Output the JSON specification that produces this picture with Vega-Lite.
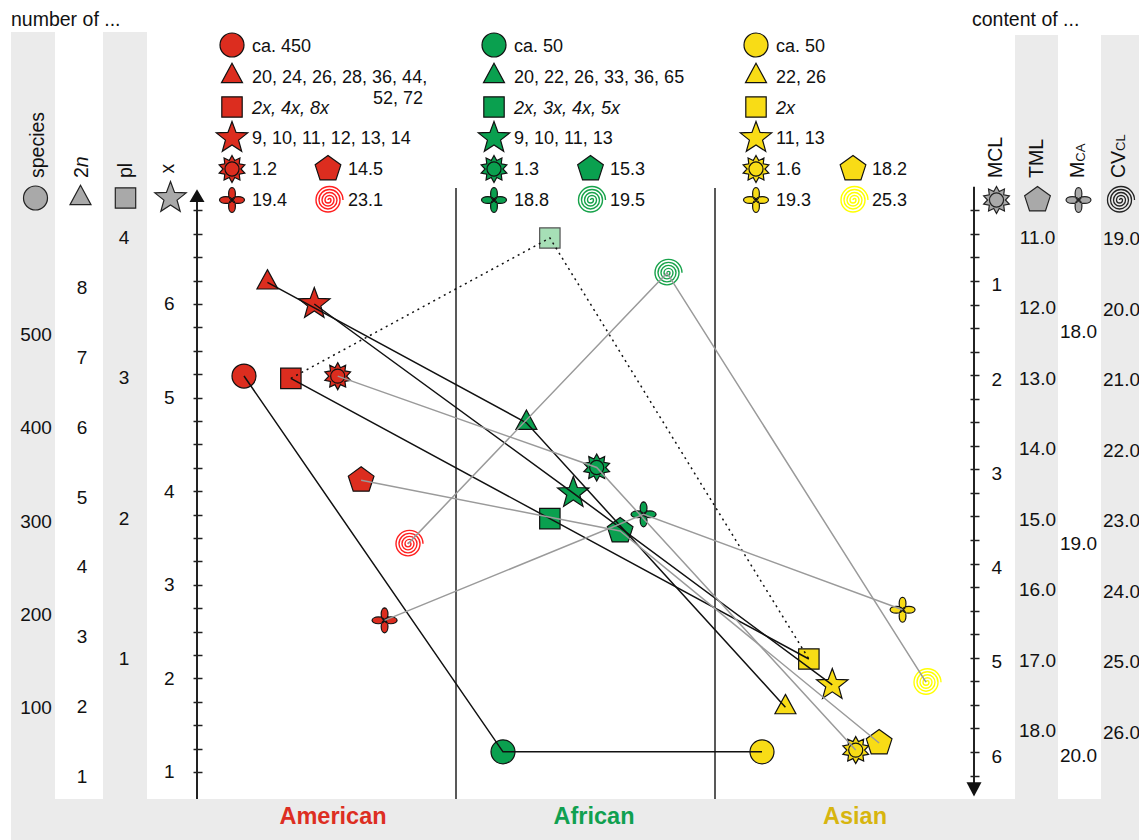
{
 "$schema": "https://vega.github.io/schema/vega-lite/v6.json",
 "width": 1139, "height": 840, "autosize": {"type": "none"}, "padding": 0,
 "background": "white",
 "config": {"view": {"stroke": null}, "text": {"font": "Liberation Sans"}, "axis": {"labelFont": "Liberation Sans"}},
 "resolve": {"scale": {"x": "independent", "y": "independent", "xOffset": "independent"}},
 "datasets": {
  "obs": [
   {"region": "American", "measure": "species", "value": 456},
   {"region": "African", "measure": "species", "value": 53},
   {"region": "Asian", "measure": "species", "value": 53},
   {"region": "American", "measure": "2n", "value": 8.08},
   {"region": "African", "measure": "2n", "value": 6.07},
   {"region": "Asian", "measure": "2n", "value": 2.0},
   {"region": "American", "measure": "pl", "value": 3},
   {"region": "African", "measure": "pl", "value": 2},
   {"region": "Asian", "measure": "pl", "value": 1},
   {"region": "American", "measure": "x", "value": 6},
   {"region": "African", "measure": "x", "value": 3.98},
   {"region": "Asian", "measure": "x", "value": 1.93},
   {"region": "American", "measure": "MCL", "value": 2.01},
   {"region": "African", "measure": "MCL", "value": 2.98},
   {"region": "Asian", "measure": "MCL", "value": 5.98},
   {"region": "American", "measure": "TML", "value": 14.44},
   {"region": "African", "measure": "TML", "value": 15.16},
   {"region": "Asian", "measure": "TML", "value": 18.17},
   {"region": "American", "measure": "MCA", "value": 19.36},
   {"region": "African", "measure": "MCA", "value": 18.86},
   {"region": "Asian", "measure": "MCA", "value": 19.31},
   {"region": "American", "measure": "CVCL", "value": 23.32},
   {"region": "African", "measure": "CVCL", "value": 19.48},
   {"region": "Asian", "measure": "CVCL", "value": 25.28}
  ],
  "alt": [
   {"region": "American", "measure": "pl", "value": 3},
   {"region": "African", "measure": "pl", "value": 4},
   {"region": "Asian", "measure": "pl", "value": 1}
  ],
  "ticks": [
   {"axis": "species", "v": 100}, {"axis": "species", "v": 200}, {"axis": "species", "v": 300}, {"axis": "species", "v": 400}, {"axis": "species", "v": 500},
   {"axis": "2n", "v": 1}, {"axis": "2n", "v": 2}, {"axis": "2n", "v": 3}, {"axis": "2n", "v": 4}, {"axis": "2n", "v": 5}, {"axis": "2n", "v": 6}, {"axis": "2n", "v": 7}, {"axis": "2n", "v": 8},
   {"axis": "pl", "v": 1}, {"axis": "pl", "v": 2}, {"axis": "pl", "v": 3}, {"axis": "pl", "v": 4},
   {"axis": "TML", "v": 11}, {"axis": "TML", "v": 12}, {"axis": "TML", "v": 13}, {"axis": "TML", "v": 14}, {"axis": "TML", "v": 15}, {"axis": "TML", "v": 16}, {"axis": "TML", "v": 17}, {"axis": "TML", "v": 18},
   {"axis": "MCA", "v": 18}, {"axis": "MCA", "v": 19}, {"axis": "MCA", "v": 20},
   {"axis": "CVCL", "v": 19}, {"axis": "CVCL", "v": 20}, {"axis": "CVCL", "v": 21}, {"axis": "CVCL", "v": 22}, {"axis": "CVCL", "v": 23}, {"axis": "CVCL", "v": 24}, {"axis": "CVCL", "v": 25}, {"axis": "CVCL", "v": 26}
  ],
  "leg": [
   {"region": "American", "measure": "species", "label": "ca. 450"},
   {"region": "American", "measure": "2n", "label": "20, 24, 26, 28, 36, 44,"},
   {"region": "American", "measure": "pl", "label": "2x, 4x, 8x"},
   {"region": "American", "measure": "x", "label": "9, 10, 11, 12, 13, 14"},
   {"region": "American", "measure": "MCL", "label": "1.2"},
   {"region": "American", "measure": "TML", "label": "14.5"},
   {"region": "American", "measure": "MCA", "label": "19.4"},
   {"region": "American", "measure": "CVCL", "label": "23.1"},
   {"region": "African", "measure": "species", "label": "ca. 50"},
   {"region": "African", "measure": "2n", "label": "20, 22, 26, 33, 36, 65"},
   {"region": "African", "measure": "pl", "label": "2x, 3x, 4x, 5x"},
   {"region": "African", "measure": "x", "label": "9, 10, 11, 13"},
   {"region": "African", "measure": "MCL", "label": "1.3"},
   {"region": "African", "measure": "TML", "label": "15.3"},
   {"region": "African", "measure": "MCA", "label": "18.8"},
   {"region": "African", "measure": "CVCL", "label": "19.5"},
   {"region": "Asian", "measure": "species", "label": "ca. 50"},
   {"region": "Asian", "measure": "2n", "label": "22, 26"},
   {"region": "Asian", "measure": "pl", "label": "2x"},
   {"region": "Asian", "measure": "x", "label": "11, 13"},
   {"region": "Asian", "measure": "MCL", "label": "1.6"},
   {"region": "Asian", "measure": "TML", "label": "18.2"},
   {"region": "Asian", "measure": "MCA", "label": "19.3"},
   {"region": "Asian", "measure": "CVCL", "label": "25.3"}
  ]
 },
 "layer": [
  {"data": {"values": [{"axis": "species"}, {"axis": "pl"}]},
   "mark": {"type": "rect", "fill": "#ebebeb"},
   "encoding": {
    "x": {"field": "axis", "type": "nominal", "scale": {"type": "band", "domain": ["species", "2n", "pl", "x"], "range": [11, 193], "paddingInner": 0.0435, "paddingOuter": 0}, "axis": null},
    "y": {"datum": 0.2735, "type": "quantitative", "scale": {"type": "linear", "domain": [0.2735, 9.24786], "nice": false, "zero": false}, "axis": null},
    "y2": {"datum": 8.906}}},
  {"data": {"values": [{"axis": "TML"}, {"axis": "CVCL"}]},
   "mark": {"type": "rect", "fill": "#ebebeb"},
   "encoding": {
    "x": {"field": "axis", "type": "nominal", "scale": {"type": "band", "domain": ["MCL", "TML", "MCA", "CVCL"], "range": [972, 1144], "paddingInner": 0, "paddingOuter": 0}, "axis": null},
    "y": {"datum": 0.2735, "type": "quantitative", "scale": {"type": "linear", "domain": [0.2735, 9.24786], "nice": false, "zero": false}, "axis": null},
    "y2": {"datum": 8.874}}},
  {"data": {"values": [{}]},
   "mark": {"type": "rect", "fill": "#ebebeb"},
   "encoding": {
    "x": {"datum": -0.71815, "type": "quantitative", "scale": {"type": "linear", "domain": [-0.76062, 3.63707], "nice": false, "zero": false}, "axis": null},
    "x2": {"datum": 3.63707},
    "y": {"datum": 0.2735, "type": "quantitative", "scale": {"type": "linear", "domain": [0.2735, 9.24786], "nice": false, "zero": false}, "axis": null},
    "y2": {"datum": 0.7115}}},
  {"data": {"values": [{"region": "African"}, {"region": "Asian"}]},
   "mark": {"type": "rule", "color": "#222", "strokeWidth": 1.5},
   "encoding": {
    "x": {"field": "region", "type": "nominal", "bandPosition": 0, "scale": {"type": "band", "domain": ["American", "African", "Asian"], "range": [197, 974], "paddingInner": 0, "paddingOuter": 0}, "axis": null},
    "y": {"datum": 0.7115, "type": "quantitative", "scale": {"type": "linear", "domain": [0.2735, 9.24786], "nice": false, "zero": false}, "axis": null},
    "y2": {"datum": 7.239}}},
  {"data": {"values": [{}]},
   "mark": {"type": "rule", "color": "#222", "strokeWidth": 2},
   "encoding": {
    "x": {"datum": 0, "type": "quantitative", "scale": {"type": "linear", "domain": [-0.76062, 3.63707], "nice": false, "zero": false}, "axis": null},
    "y": {"datum": 0.7115, "type": "quantitative", "scale": {"type": "linear", "domain": [0.2735, 9.24786], "nice": false, "zero": false},
     "axis": {"orient": "left", "offset": -202, "domain": false, "grid": false, "title": null,
      "values": [1, 1.25, 1.5, 1.75, 2, 2.25, 2.5, 2.75, 3, 3.25, 3.5, 3.75, 4, 4.25, 4.5, 4.75, 5, 5.25, 5.5, 5.75, 6, 6.25, 6.5, 6.75, 7],
      "tickSize": 9, "tickWidth": 1.5, "tickColor": "#222",
      "labelExpr": "datum.value % 1 === 0 && datum.value < 7 ? '' + datum.value : ''",
      "labelFontSize": 19, "labelColor": "#111", "labelPadding": 19, "labelOverlap": false, "labelBound": false, "labelFlush": false}},
    "y2": {"datum": 7.1}}},
  {"data": {"values": [{}]},
   "mark": {"type": "rule", "color": "#222", "strokeWidth": 2},
   "encoding": {
    "x": {"datum": 3, "type": "quantitative", "scale": {"type": "linear", "domain": [-0.76062, 3.63707], "nice": false, "zero": false}, "axis": null},
    "y": {"datum": 0, "type": "quantitative", "scale": {"type": "linear", "domain": [-1.98301, 6.93418], "reverse": true, "nice": false, "zero": false},
     "axis": {"orient": "right", "offset": -169, "domain": false, "grid": false, "title": null,
      "values": [0.25, 0.5, 0.75, 1, 1.25, 1.5, 1.75, 2, 2.25, 2.5, 2.75, 3, 3.25, 3.5, 3.75, 4, 4.25, 4.5, 4.75, 5, 5.25, 5.5, 5.75, 6, 6.25],
      "tickSize": 9, "tickWidth": 1.5, "tickColor": "#222",
      "labelExpr": "datum.value % 1 === 0 ? '' + datum.value : ''",
      "labelFontSize": 19, "labelColor": "#111", "labelPadding": 12, "labelOffset": 4, "labelOverlap": false, "labelBound": false, "labelFlush": false}},
    "y2": {"datum": 6.35}}},
  {"data": {"values": [{}]},
   "mark": {"type": "point", "shape": "M0,-0.45L0.5,0.4L-0.5,0.4Z", "size": 900, "filled": true, "fill": "#111", "opacity": 1, "strokeWidth": 0},
   "encoding": {
    "x": {"datum": 0, "type": "quantitative", "scale": {"type": "linear", "domain": [-0.76062, 3.63707], "nice": false, "zero": false}, "axis": null},
    "y": {"datum": 7.1538, "type": "quantitative", "scale": {"type": "linear", "domain": [0.2735, 9.24786], "nice": false, "zero": false}, "axis": null}}},
  {"data": {"values": [{}]},
   "mark": {"type": "point", "shape": "M0,0.5L0.5,-0.45L-0.5,-0.45Z", "size": 900, "filled": true, "fill": "#111", "opacity": 1, "strokeWidth": 0},
   "encoding": {
    "x": {"datum": 3, "type": "quantitative", "scale": {"type": "linear", "domain": [-0.76062, 3.63707], "nice": false, "zero": false}, "axis": null},
    "y": {"datum": 0.81838, "type": "quantitative", "scale": {"type": "linear", "domain": [0.2735, 9.24786], "nice": false, "zero": false}, "axis": null}}},
  {"data": {"name": "ticks"}, "transform": [{"filter": "datum.axis === 'species'"}],
   "mark": {"type": "text", "fontSize": 19, "color": "#111", "baseline": "middle", "align": "center"},
   "encoding": {
    "x": {"field": "axis", "type": "nominal", "scale": {"type": "band", "domain": ["species", "2n", "pl", "x"], "range": [14, 190], "paddingInner": 0, "paddingOuter": 0}, "axis": null},
    "y": {"field": "v", "type": "quantitative", "scale": {"type": "linear", "domain": [-41.55, 859.25], "nice": false, "zero": false}, "axis": null},
    "text": {"field": "v", "type": "quantitative"}}},
  {"data": {"name": "ticks"}, "transform": [{"filter": "datum.axis === '2n'"}],
   "mark": {"type": "text", "fontSize": 19, "color": "#111", "baseline": "middle", "align": "center", "dx": 2},
   "encoding": {
    "x": {"field": "axis", "type": "nominal", "scale": {"type": "band", "domain": ["species", "2n", "pl", "x"], "range": [14, 190], "paddingInner": 0, "paddingOuter": 0}, "axis": null},
    "y": {"field": "v", "type": "quantitative", "scale": {"type": "linear", "domain": [0.0982, 12.1223], "nice": false, "zero": false}, "axis": null},
    "text": {"field": "v", "type": "quantitative"}}},
  {"data": {"name": "ticks"}, "transform": [{"filter": "datum.axis === 'pl'"}],
   "mark": {"type": "text", "fontSize": 19, "color": "#111", "baseline": "middle", "align": "center"},
   "encoding": {
    "x": {"field": "axis", "type": "nominal", "scale": {"type": "band", "domain": ["species", "2n", "pl", "x"], "range": [14, 190], "paddingInner": 0, "paddingOuter": 0}, "axis": null},
    "y": {"field": "v", "type": "quantitative", "scale": {"type": "linear", "domain": [-0.2898, 5.6961], "nice": false, "zero": false}, "axis": null},
    "text": {"field": "v", "type": "quantitative"}}},
  {"data": {"name": "ticks"}, "transform": [{"filter": "datum.axis === 'TML'"}],
   "mark": {"type": "text", "fontSize": 19, "color": "#111", "baseline": "middle", "align": "center"},
   "encoding": {
    "x": {"field": "axis", "type": "nominal", "scale": {"type": "band", "domain": ["MCL", "TML", "MCA", "CVCL"], "range": [976, 1140], "paddingInner": 0, "paddingOuter": 0}, "axis": null},
    "y": {"field": "v", "type": "quantitative", "scale": {"type": "linear", "domain": [7.6207, 19.5475], "reverse": true, "nice": false, "zero": false}, "axis": null},
    "text": {"field": "v", "type": "quantitative", "format": ".1f"}}},
  {"data": {"name": "ticks"}, "transform": [{"filter": "datum.axis === 'MCA'"}],
   "mark": {"type": "text", "fontSize": 19, "color": "#111", "baseline": "middle", "align": "center"},
   "encoding": {
    "x": {"field": "axis", "type": "nominal", "scale": {"type": "band", "domain": ["MCL", "TML", "MCA", "CVCL"], "range": [976, 1140], "paddingInner": 0, "paddingOuter": 0}, "axis": null},
    "y": {"field": "v", "type": "quantitative", "scale": {"type": "linear", "domain": [16.434, 20.396], "reverse": true, "nice": false, "zero": false}, "axis": null},
    "text": {"field": "v", "type": "quantitative", "format": ".1f"}}},
  {"data": {"name": "ticks"}, "transform": [{"filter": "datum.axis === 'CVCL'"}],
   "mark": {"type": "text", "fontSize": 19, "color": "#111", "baseline": "middle", "align": "center", "dx": 2},
   "encoding": {
    "x": {"field": "axis", "type": "nominal", "scale": {"type": "band", "domain": ["MCL", "TML", "MCA", "CVCL"], "range": [976, 1140], "paddingInner": 0, "paddingOuter": 0}, "axis": null},
    "y": {"field": "v", "type": "quantitative", "scale": {"type": "linear", "domain": [15.6133, 27.5163], "reverse": true, "nice": false, "zero": false}, "axis": null},
    "text": {"field": "v", "type": "quantitative", "format": ".1f"}}},
  {"data": {"values": [{"axis": "species", "t": "species"}, {"axis": "2n", "t": "2"}, {"axis": "pl", "t": "pl"}]},
   "mark": {"type": "text", "fontSize": 19.5, "color": "#111", "angle": 270, "align": "left", "baseline": "middle", "dy": 2},
   "encoding": {
    "x": {"field": "axis", "type": "nominal", "scale": {"type": "band", "domain": ["species", "2n", "pl", "x"], "range": [14, 190], "paddingInner": 0, "paddingOuter": 0}, "axis": null},
    "y": {"datum": 7.3462, "type": "quantitative", "scale": {"type": "linear", "domain": [0.2735, 9.24786], "nice": false, "zero": false}, "axis": null},
    "text": {"field": "t"}}},
  {"data": {"values": [{"axis": "x"}]},
   "mark": {"type": "text", "fontSize": 19.5, "color": "#111", "angle": 270, "align": "left", "baseline": "middle", "dy": 0, "text": "x"},
   "encoding": {
    "x": {"field": "axis", "type": "nominal", "scale": {"type": "band", "domain": ["species", "2n", "pl", "x"], "range": [14, 190], "paddingInner": 0, "paddingOuter": 0}, "axis": null},
    "y": {"datum": 7.395, "type": "quantitative", "scale": {"type": "linear", "domain": [0.2735, 9.24786], "nice": false, "zero": false}, "axis": null}}},
  {"data": {"values": [{"axis": "2n"}]},
   "mark": {"type": "text", "fontSize": 19.5, "fontStyle": "italic", "color": "#111", "angle": 270, "align": "left", "baseline": "middle", "dy": 2, "text": "n"},
   "encoding": {
    "x": {"field": "axis", "type": "nominal", "scale": {"type": "band", "domain": ["species", "2n", "pl", "x"], "range": [14, 190], "paddingInner": 0, "paddingOuter": 0}, "axis": null},
    "y": {"datum": 7.462, "type": "quantitative", "scale": {"type": "linear", "domain": [0.2735, 9.24786], "nice": false, "zero": false}, "axis": null}}},
  {"data": {"values": [{"axis": "MCL", "t": "MCL"}, {"axis": "TML", "t": "TML"}, {"axis": "MCA", "t": "M"}, {"axis": "CVCL", "t": "CV"}]},
   "mark": {"type": "text", "fontSize": 19.5, "color": "#111", "angle": 270, "align": "left", "baseline": "middle", "dy": -1},
   "encoding": {
    "x": {"field": "axis", "type": "nominal", "scale": {"type": "band", "domain": ["MCL", "TML", "MCA", "CVCL"], "range": [976, 1140], "paddingInner": 0, "paddingOuter": 0}, "axis": null},
    "y": {"datum": 7.3462, "type": "quantitative", "scale": {"type": "linear", "domain": [0.2735, 9.24786], "nice": false, "zero": false}, "axis": null},
    "text": {"field": "t"}}},
  {"data": {"values": [{"axis": "MCA"}]},
   "mark": {"type": "text", "fontSize": 13, "color": "#111", "angle": 270, "align": "left", "baseline": "middle", "dy": 2, "text": "CA"},
   "encoding": {
    "x": {"field": "axis", "type": "nominal", "scale": {"type": "band", "domain": ["MCL", "TML", "MCA", "CVCL"], "range": [976, 1140], "paddingInner": 0, "paddingOuter": 0}, "axis": null},
    "y": {"datum": 7.52, "type": "quantitative", "scale": {"type": "linear", "domain": [0.2735, 9.24786], "nice": false, "zero": false}, "axis": null}}},
  {"data": {"values": [{"axis": "CVCL"}]},
   "mark": {"type": "text", "fontSize": 13, "color": "#111", "angle": 270, "align": "left", "baseline": "middle", "dy": 1, "text": "CL"},
   "encoding": {
    "x": {"field": "axis", "type": "nominal", "scale": {"type": "band", "domain": ["MCL", "TML", "MCA", "CVCL"], "range": [976, 1140], "paddingInner": 0, "paddingOuter": 0}, "axis": null},
    "y": {"datum": 7.635, "type": "quantitative", "scale": {"type": "linear", "domain": [0.2735, 9.24786], "nice": false, "zero": false}, "axis": null}}},
  {"data": {"values": [{"axis": "species"}, {"axis": "2n"}, {"axis": "pl"}, {"axis": "x"}]},
   "mark": {"type": "point", "size": 900, "filled": true, "fill": "#a9a9a9", "stroke": "#222", "strokeWidth": 1.2, "opacity": 1},
   "encoding": {
    "x": {"field": "axis", "type": "nominal", "scale": {"type": "band", "domain": ["species", "2n", "pl", "x"], "range": [13, 193], "paddingInner": 0, "paddingOuter": 0}, "axis": null},
    "y": {"datum": 7.1325, "type": "quantitative", "scale": {"type": "linear", "domain": [0.2735, 9.24786], "nice": false, "zero": false}, "axis": null},
    "shape": {"field": "axis", "type": "nominal", "legend": null, "scale": {"domain": ["species", "2n", "pl", "x", "MCL", "TML", "MCA", "CVCL"], "range": [
      "M0.8,0A0.8,0.8 0 1 1 -0.8,0A0.8,0.8 0 1 1 0.8,0Z",
      "M0,-0.85L0.7,0.44L-0.7,0.44Z",
      "M-0.68,-0.68L0.68,-0.68L0.68,0.68L-0.68,0.68Z",
      "M0,-1.1L0.2704,-0.3721L1.0462,-0.3399L0.4375,0.1421L0.6466,0.8899L0,0.46L-0.6466,0.8899L-0.4375,0.1421L-1.0462,-0.3399L-0.2704,-0.3721Z",
      "M0,-0.9L0.1836,-0.5649L0.529,-0.7281L0.4806,-0.3491L0.856,-0.2781L0.594,0L0.856,0.2781L0.4806,0.3491L0.529,0.7281L0.1836,0.5649L0,0.9L-0.1836,0.5649L-0.529,0.7281L-0.4806,0.3491L-0.856,0.2781L-0.594,0L-0.856,-0.2781L-0.4806,-0.3491L-0.529,-0.7281L-0.1836,-0.5649ZM0.47,0A0.47,0.47 0 1 1 -0.47,0A0.47,0.47 0 1 1 0.47,0Z",
      "M0,-0.9L0.856,-0.2781L0.529,0.7281L-0.529,0.7281L-0.856,-0.2781Z",
      "M0,0A0.233,0.4167 0 0 1 0,-0.833A0.233,0.4167 0 0 1 0,0ZM0,0A0.4167,0.233 0 0 1 0.833,0A0.4167,0.233 0 0 1 0,0ZM0,0A0.233,0.4167 0 0 1 0,0.833A0.233,0.4167 0 0 1 0,0ZM0,0A0.4167,0.233 0 0 1 -0.833,0A0.4167,0.233 0 0 1 0,0Z",
      "M0,0A0.1,0.1 0 0 1 0.2,0A0.2,0.2 0 0 1 -0.2,0A0.3,0.3 0 0 1 0.4,0A0.4,0.4 0 0 1 -0.4,0A0.5,0.5 0 0 1 0.6,0A0.6,0.6 0 0 1 -0.6,0A0.7,0.7 0 0 1 0.8,0A0.8,0.8 0 0 1 -0.8,0A0.9,0.9 0 0 1 1,0"]}}}},
  {"data": {"values": [{"axis": "MCL"}, {"axis": "TML"}, {"axis": "MCA"}]},
   "mark": {"type": "point", "size": 900, "filled": true, "fill": "#a9a9a9", "stroke": "#222", "strokeWidth": 1.2, "opacity": 1},
   "encoding": {
    "x": {"field": "axis", "type": "nominal", "scale": {"type": "band", "domain": ["MCL", "TML", "MCA", "CVCL"], "range": [976, 1140], "paddingInner": 0, "paddingOuter": 0}, "axis": null},
    "y": {"datum": 7.1111, "type": "quantitative", "scale": {"type": "linear", "domain": [0.2735, 9.24786], "nice": false, "zero": false}, "axis": null},
    "shape": {"field": "axis", "type": "nominal", "legend": null, "scale": {"domain": ["species", "2n", "pl", "x", "MCL", "TML", "MCA", "CVCL"], "range": [
      "M0.8,0A0.8,0.8 0 1 1 -0.8,0A0.8,0.8 0 1 1 0.8,0Z",
      "M0,-0.85L0.7,0.44L-0.7,0.44Z",
      "M-0.68,-0.68L0.68,-0.68L0.68,0.68L-0.68,0.68Z",
      "M0,-1.1L0.2704,-0.3721L1.0462,-0.3399L0.4375,0.1421L0.6466,0.8899L0,0.46L-0.6466,0.8899L-0.4375,0.1421L-1.0462,-0.3399L-0.2704,-0.3721Z",
      "M0,-0.9L0.1836,-0.5649L0.529,-0.7281L0.4806,-0.3491L0.856,-0.2781L0.594,0L0.856,0.2781L0.4806,0.3491L0.529,0.7281L0.1836,0.5649L0,0.9L-0.1836,0.5649L-0.529,0.7281L-0.4806,0.3491L-0.856,0.2781L-0.594,0L-0.856,-0.2781L-0.4806,-0.3491L-0.529,-0.7281L-0.1836,-0.5649ZM0.47,0A0.47,0.47 0 1 1 -0.47,0A0.47,0.47 0 1 1 0.47,0Z",
      "M0,-0.9L0.856,-0.2781L0.529,0.7281L-0.529,0.7281L-0.856,-0.2781Z",
      "M0,0A0.233,0.4167 0 0 1 0,-0.833A0.233,0.4167 0 0 1 0,0ZM0,0A0.4167,0.233 0 0 1 0.833,0A0.4167,0.233 0 0 1 0,0ZM0,0A0.233,0.4167 0 0 1 0,0.833A0.233,0.4167 0 0 1 0,0ZM0,0A0.4167,0.233 0 0 1 -0.833,0A0.4167,0.233 0 0 1 0,0Z",
      "M0,0A0.1,0.1 0 0 1 0.2,0A0.2,0.2 0 0 1 -0.2,0A0.3,0.3 0 0 1 0.4,0A0.4,0.4 0 0 1 -0.4,0A0.5,0.5 0 0 1 0.6,0A0.6,0.6 0 0 1 -0.6,0A0.7,0.7 0 0 1 0.8,0A0.8,0.8 0 0 1 -0.8,0A0.9,0.9 0 0 1 1,0"]}}}},
  {"data": {"values": [{"axis": "CVCL"}]},
   "mark": {"type": "point", "size": 900, "filled": false, "stroke": "#222", "strokeWidth": 1.3, "opacity": 1,
    "shape": "M0,0A0.1,0.1 0 0 1 0.2,0A0.2,0.2 0 0 1 -0.2,0A0.3,0.3 0 0 1 0.4,0A0.4,0.4 0 0 1 -0.4,0A0.5,0.5 0 0 1 0.6,0A0.6,0.6 0 0 1 -0.6,0A0.7,0.7 0 0 1 0.8,0A0.8,0.8 0 0 1 -0.8,0A0.9,0.9 0 0 1 1,0"},
   "encoding": {
    "x": {"field": "axis", "type": "nominal", "scale": {"type": "band", "domain": ["MCL", "TML", "MCA", "CVCL"], "range": [976, 1140], "paddingInner": 0, "paddingOuter": 0}, "axis": null},
    "y": {"datum": 7.1111, "type": "quantitative", "scale": {"type": "linear", "domain": [0.2735, 9.24786], "nice": false, "zero": false}, "axis": null}}},
  {"data": {"values": [{"t": "number of ...", "side": "L"}, {"t": "content of ...", "side": "R"}]},
   "mark": {"type": "text", "fontSize": 19.5, "color": "#111", "align": "left", "baseline": "middle"},
   "encoding": {
    "x": {"field": "side", "type": "nominal", "scale": {"type": "point", "domain": ["L", "R"], "range": [11, 972], "padding": 0}, "axis": null},
    "y": {"datum": 9.0342, "type": "quantitative", "scale": {"type": "linear", "domain": [0.2735, 9.24786], "nice": false, "zero": false}, "axis": null},
    "text": {"field": "t"}}},
  {"data": {"values": [{"region": "American"}, {"region": "African"}, {"region": "Asian"}]},
   "mark": {"type": "text", "fontSize": 23.5, "fontWeight": "bold", "align": "center", "baseline": "middle"},
   "encoding": {
    "x": {"field": "region", "type": "nominal", "scale": {"type": "point", "domain": ["American", "African", "Asian"], "range": [333, 855], "padding": 0}, "axis": null},
    "y": {"datum": 0.5192, "type": "quantitative", "scale": {"type": "linear", "domain": [0.2735, 9.24786], "nice": false, "zero": false}, "axis": null},
    "color": {"field": "region", "type": "nominal", "legend": null, "scale": {"domain": ["American", "African", "Asian"], "range": ["#dd2e22", "#10a050", "#d7b50f"]}},
    "text": {"field": "region"}}},
  {"data": {"name": "leg"}, "transform": [{"filter": "indexof(['species','2n','pl','x','MCL','MCA'], datum.measure) >= 0"}],
   "mark": {"type": "point", "size": 900, "filled": true, "stroke": "#111", "strokeWidth": 1.2, "opacity": 1},
   "encoding": {
    "x": {"field": "region", "type": "nominal", "scale": {"type": "point", "domain": ["American", "African", "Asian"], "range": [232, 756], "padding": 0}, "axis": null},
    "y": {"field": "measure", "type": "nominal", "scale": {"type": "point", "domain": ["species", "2n", "pl", "x", "MCL", "MCA"], "range": [45, 200], "padding": 0}, "axis": null},
    "fill": {"field": "region", "type": "nominal", "legend": null, "scale": {"domain": ["American", "African", "Asian"], "range": ["#dc2d1f", "#0aa04f", "#f8dc16"]}},
    "shape": {"field": "measure", "type": "nominal", "legend": null, "scale": {"domain": ["species", "2n", "pl", "x", "MCL", "TML", "MCA", "CVCL"], "range": [
      "M0.8,0A0.8,0.8 0 1 1 -0.8,0A0.8,0.8 0 1 1 0.8,0Z",
      "M0,-0.85L0.7,0.44L-0.7,0.44Z",
      "M-0.68,-0.68L0.68,-0.68L0.68,0.68L-0.68,0.68Z",
      "M0,-1.1L0.2704,-0.3721L1.0462,-0.3399L0.4375,0.1421L0.6466,0.8899L0,0.46L-0.6466,0.8899L-0.4375,0.1421L-1.0462,-0.3399L-0.2704,-0.3721Z",
      "M0,-0.9L0.1836,-0.5649L0.529,-0.7281L0.4806,-0.3491L0.856,-0.2781L0.594,0L0.856,0.2781L0.4806,0.3491L0.529,0.7281L0.1836,0.5649L0,0.9L-0.1836,0.5649L-0.529,0.7281L-0.4806,0.3491L-0.856,0.2781L-0.594,0L-0.856,-0.2781L-0.4806,-0.3491L-0.529,-0.7281L-0.1836,-0.5649ZM0.47,0A0.47,0.47 0 1 1 -0.47,0A0.47,0.47 0 1 1 0.47,0Z",
      "M0,-0.9L0.856,-0.2781L0.529,0.7281L-0.529,0.7281L-0.856,-0.2781Z",
      "M0,0A0.233,0.4167 0 0 1 0,-0.833A0.233,0.4167 0 0 1 0,0ZM0,0A0.4167,0.233 0 0 1 0.833,0A0.4167,0.233 0 0 1 0,0ZM0,0A0.233,0.4167 0 0 1 0,0.833A0.233,0.4167 0 0 1 0,0ZM0,0A0.4167,0.233 0 0 1 -0.833,0A0.4167,0.233 0 0 1 0,0Z",
      "M0,0A0.1,0.1 0 0 1 0.2,0A0.2,0.2 0 0 1 -0.2,0A0.3,0.3 0 0 1 0.4,0A0.4,0.4 0 0 1 -0.4,0A0.5,0.5 0 0 1 0.6,0A0.6,0.6 0 0 1 -0.6,0A0.7,0.7 0 0 1 0.8,0A0.8,0.8 0 0 1 -0.8,0A0.9,0.9 0 0 1 1,0"]}}}},
  {"data": {"name": "leg"}, "transform": [{"filter": "datum.measure === 'TML'"}],
   "mark": {"type": "point", "size": 900, "filled": true, "stroke": "#111", "strokeWidth": 1.2, "opacity": 1, "shape": "M0,-0.9L0.856,-0.2781L0.529,0.7281L-0.529,0.7281L-0.856,-0.2781Z"},
   "encoding": {
    "x": {"field": "region", "type": "nominal", "scale": {"type": "point", "domain": ["American", "African", "Asian"], "range": [328, 853], "padding": 0}, "axis": null},
    "y": {"field": "measure", "type": "nominal", "scale": {"type": "point", "domain": ["species", "2n", "pl", "x", "TML", "CVCL"], "range": [45, 200], "padding": 0}, "axis": null},
    "fill": {"field": "region", "type": "nominal", "legend": null, "scale": {"domain": ["American", "African", "Asian"], "range": ["#dc2d1f", "#0aa04f", "#f8dc16"]}}}},
  {"data": {"name": "leg"}, "transform": [{"filter": "datum.measure === 'CVCL'"}],
   "mark": {"type": "point", "size": 900, "filled": false, "strokeWidth": 1.4, "opacity": 1, "shape": "M0,0A0.1,0.1 0 0 1 0.2,0A0.2,0.2 0 0 1 -0.2,0A0.3,0.3 0 0 1 0.4,0A0.4,0.4 0 0 1 -0.4,0A0.5,0.5 0 0 1 0.6,0A0.6,0.6 0 0 1 -0.6,0A0.7,0.7 0 0 1 0.8,0A0.8,0.8 0 0 1 -0.8,0A0.9,0.9 0 0 1 1,0"},
   "encoding": {
    "x": {"field": "region", "type": "nominal", "scale": {"type": "point", "domain": ["American", "African", "Asian"], "range": [328, 853], "padding": 0}, "axis": null},
    "y": {"field": "measure", "type": "nominal", "scale": {"type": "point", "domain": ["species", "2n", "pl", "x", "TML", "CVCL"], "range": [45, 200], "padding": 0}, "axis": null},
    "stroke": {"field": "region", "type": "nominal", "legend": null, "scale": {"domain": ["American", "African", "Asian"], "range": ["#ff1f1f", "#17a24a", "#ffff00"]}}}},
  {"data": {"name": "leg"}, "transform": [{"filter": "indexof(['species','2n','x','MCL','MCA'], datum.measure) >= 0"}],
   "mark": {"type": "text", "fontSize": 18, "color": "#111", "align": "left", "baseline": "middle"},
   "encoding": {
    "x": {"field": "region", "type": "nominal", "scale": {"type": "point", "domain": ["American", "African", "Asian"], "range": [252, 776], "padding": 0}, "axis": null},
    "y": {"field": "measure", "type": "nominal", "scale": {"type": "point", "domain": ["species", "2n", "pl", "x", "MCL", "MCA"], "range": [47, 201], "padding": 0}, "axis": null},
    "text": {"field": "label"}}},
  {"data": {"name": "leg"}, "transform": [{"filter": "datum.measure === 'pl'"}],
   "mark": {"type": "text", "fontSize": 18, "fontStyle": "italic", "color": "#111", "align": "left", "baseline": "middle"},
   "encoding": {
    "x": {"field": "region", "type": "nominal", "scale": {"type": "point", "domain": ["American", "African", "Asian"], "range": [252, 776], "padding": 0}, "axis": null},
    "y": {"field": "measure", "type": "nominal", "scale": {"type": "point", "domain": ["species", "2n", "pl", "x", "MCL", "MCA"], "range": [47, 201], "padding": 0}, "axis": null},
    "text": {"field": "label"}}},
  {"data": {"name": "leg"}, "transform": [{"filter": "datum.measure === '2n' && datum.region === 'American'"}],
   "mark": {"type": "text", "fontSize": 18, "color": "#111", "align": "left", "baseline": "middle", "dx": 121, "dy": 21, "text": "52, 72"},
   "encoding": {
    "x": {"field": "region", "type": "nominal", "scale": {"type": "point", "domain": ["American", "African", "Asian"], "range": [252, 776], "padding": 0}, "axis": null},
    "y": {"field": "measure", "type": "nominal", "scale": {"type": "point", "domain": ["species", "2n", "pl", "x", "MCL", "MCA"], "range": [47, 201], "padding": 0}, "axis": null}}},
  {"data": {"name": "leg"}, "transform": [{"filter": "datum.measure === 'TML' || datum.measure === 'CVCL'"}],
   "mark": {"type": "text", "fontSize": 18, "color": "#111", "align": "left", "baseline": "middle"},
   "encoding": {
    "x": {"field": "region", "type": "nominal", "scale": {"type": "point", "domain": ["American", "African", "Asian"], "range": [348, 872], "padding": 0}, "axis": null},
    "y": {"field": "measure", "type": "nominal", "scale": {"type": "point", "domain": ["species", "2n", "pl", "x", "TML", "CVCL"], "range": [47, 201], "padding": 0}, "axis": null},
    "text": {"field": "label"}}},

  {"data": {"name": "obs"}, "transform": [{"filter": "datum.measure === 'species'"}],
   "mark": {"type": "point", "size": 900, "filled": true, "stroke": "#111", "strokeWidth": 1.2, "opacity": 1, "shape": "M0.8,0A0.8,0.8 0 1 1 -0.8,0A0.8,0.8 0 1 1 0.8,0Z"},
   "encoding": {
    "x": {"field": "region", "type": "nominal", "scale": {"type": "band", "domain": ["American", "African", "Asian"], "range": [197, 974], "paddingInner": 0, "paddingOuter": 0}, "axis": null},
    "xOffset": {"field": "measure", "type": "nominal", "scale": {"type": "point", "domain": ["species", "2n", "pl", "x", "MCL", "TML", "MCA", "CVCL"], "range": [47, 211], "padding": 0}},
    "y": {"field": "value", "type": "quantitative", "scale": {"type": "linear", "domain": [-41.55, 859.25], "nice": false, "zero": false}, "axis": null},
    "fill": {"field": "region", "type": "nominal", "legend": null, "scale": {"domain": ["American", "African", "Asian"], "range": ["#dc2d1f", "#0aa04f", "#f8dc16"]}}}},
  {"data": {"name": "obs"}, "transform": [{"filter": "datum.measure === '2n'"}],
   "mark": {"type": "point", "size": 900, "filled": true, "stroke": "#111", "strokeWidth": 1.2, "opacity": 1, "shape": "M0,-0.85L0.7,0.44L-0.7,0.44Z"},
   "encoding": {
    "x": {"field": "region", "type": "nominal", "scale": {"type": "band", "domain": ["American", "African", "Asian"], "range": [197, 974], "paddingInner": 0, "paddingOuter": 0}, "axis": null},
    "xOffset": {"field": "measure", "type": "nominal", "scale": {"type": "point", "domain": ["species", "2n", "pl", "x", "MCL", "TML", "MCA", "CVCL"], "range": [47, 211], "padding": 0}},
    "y": {"field": "value", "type": "quantitative", "scale": {"type": "linear", "domain": [0.0982, 12.1223], "nice": false, "zero": false}, "axis": null},
    "fill": {"field": "region", "type": "nominal", "legend": null, "scale": {"domain": ["American", "African", "Asian"], "range": ["#dc2d1f", "#0aa04f", "#f8dc16"]}}}},
  {"data": {"name": "obs"}, "transform": [{"filter": "datum.measure === 'pl'"}],
   "mark": {"type": "point", "size": 900, "filled": true, "stroke": "#111", "strokeWidth": 1.2, "opacity": 1, "shape": "M-0.68,-0.68L0.68,-0.68L0.68,0.68L-0.68,0.68Z"},
   "encoding": {
    "x": {"field": "region", "type": "nominal", "scale": {"type": "band", "domain": ["American", "African", "Asian"], "range": [197, 974], "paddingInner": 0, "paddingOuter": 0}, "axis": null},
    "xOffset": {"field": "measure", "type": "nominal", "scale": {"type": "point", "domain": ["species", "2n", "pl", "x", "MCL", "TML", "MCA", "CVCL"], "range": [47, 211], "padding": 0}},
    "y": {"field": "value", "type": "quantitative", "scale": {"type": "linear", "domain": [-0.2898, 5.6961], "nice": false, "zero": false}, "axis": null},
    "fill": {"field": "region", "type": "nominal", "legend": null, "scale": {"domain": ["American", "African", "Asian"], "range": ["#dc2d1f", "#0aa04f", "#f8dc16"]}}}},
  {"data": {"name": "alt"}, "transform": [{"filter": "datum.region === 'African'"}],
   "mark": {"type": "point", "size": 900, "filled": true, "fill": "#a6dfb6", "stroke": "#555", "strokeWidth": 1.2, "opacity": 1, "shape": "M-0.68,-0.68L0.68,-0.68L0.68,0.68L-0.68,0.68Z"},
   "encoding": {
    "x": {"field": "region", "type": "nominal", "scale": {"type": "band", "domain": ["American", "African", "Asian"], "range": [197, 974], "paddingInner": 0, "paddingOuter": 0}, "axis": null},
    "xOffset": {"field": "measure", "type": "nominal", "scale": {"type": "point", "domain": ["species", "2n", "pl", "x", "MCL", "TML", "MCA", "CVCL"], "range": [47, 211], "padding": 0}},
    "y": {"field": "value", "type": "quantitative", "scale": {"type": "linear", "domain": [-0.2898, 5.6961], "nice": false, "zero": false}, "axis": null}}},
  {"data": {"name": "obs"}, "transform": [{"filter": "datum.measure === 'x'"}],
   "mark": {"type": "point", "size": 900, "filled": true, "stroke": "#111", "strokeWidth": 1.2, "opacity": 1, "shape": "M0,-1.1L0.2704,-0.3721L1.0462,-0.3399L0.4375,0.1421L0.6466,0.8899L0,0.46L-0.6466,0.8899L-0.4375,0.1421L-1.0462,-0.3399L-0.2704,-0.3721Z"},
   "encoding": {
    "x": {"field": "region", "type": "nominal", "scale": {"type": "band", "domain": ["American", "African", "Asian"], "range": [197, 974], "paddingInner": 0, "paddingOuter": 0}, "axis": null},
    "xOffset": {"field": "measure", "type": "nominal", "scale": {"type": "point", "domain": ["species", "2n", "pl", "x", "MCL", "TML", "MCA", "CVCL"], "range": [47, 211], "padding": 0}},
    "y": {"field": "value", "type": "quantitative", "scale": {"type": "linear", "domain": [0.2735, 9.24786], "nice": false, "zero": false}, "axis": null},
    "fill": {"field": "region", "type": "nominal", "legend": null, "scale": {"domain": ["American", "African", "Asian"], "range": ["#dc2d1f", "#0aa04f", "#f8dc16"]}}}},
  {"data": {"name": "obs"}, "transform": [{"filter": "datum.measure === 'MCL'"}],
   "mark": {"type": "point", "size": 900, "filled": true, "stroke": "#111", "strokeWidth": 1.2, "opacity": 1, "shape": "M0,-0.9L0.1836,-0.5649L0.529,-0.7281L0.4806,-0.3491L0.856,-0.2781L0.594,0L0.856,0.2781L0.4806,0.3491L0.529,0.7281L0.1836,0.5649L0,0.9L-0.1836,0.5649L-0.529,0.7281L-0.4806,0.3491L-0.856,0.2781L-0.594,0L-0.856,-0.2781L-0.4806,-0.3491L-0.529,-0.7281L-0.1836,-0.5649ZM0.47,0A0.47,0.47 0 1 1 -0.47,0A0.47,0.47 0 1 1 0.47,0Z"},
   "encoding": {
    "x": {"field": "region", "type": "nominal", "scale": {"type": "band", "domain": ["American", "African", "Asian"], "range": [197, 974], "paddingInner": 0, "paddingOuter": 0}, "axis": null},
    "xOffset": {"field": "measure", "type": "nominal", "scale": {"type": "point", "domain": ["species", "2n", "pl", "x", "MCL", "TML", "MCA", "CVCL"], "range": [47, 211], "padding": 0}},
    "y": {"field": "value", "type": "quantitative", "scale": {"type": "linear", "domain": [-1.98301, 6.93418], "reverse": true, "nice": false, "zero": false}, "axis": null},
    "fill": {"field": "region", "type": "nominal", "legend": null, "scale": {"domain": ["American", "African", "Asian"], "range": ["#dc2d1f", "#0aa04f", "#f8dc16"]}}}},
  {"data": {"name": "obs"}, "transform": [{"filter": "datum.measure === 'TML'"}],
   "mark": {"type": "point", "size": 900, "filled": true, "stroke": "#111", "strokeWidth": 1.2, "opacity": 1, "shape": "M0,-0.9L0.856,-0.2781L0.529,0.7281L-0.529,0.7281L-0.856,-0.2781Z"},
   "encoding": {
    "x": {"field": "region", "type": "nominal", "scale": {"type": "band", "domain": ["American", "African", "Asian"], "range": [197, 974], "paddingInner": 0, "paddingOuter": 0}, "axis": null},
    "xOffset": {"field": "measure", "type": "nominal", "scale": {"type": "point", "domain": ["species", "2n", "pl", "x", "MCL", "TML", "MCA", "CVCL"], "range": [47, 211], "padding": 0}},
    "y": {"field": "value", "type": "quantitative", "scale": {"type": "linear", "domain": [7.6207, 19.5475], "reverse": true, "nice": false, "zero": false}, "axis": null},
    "fill": {"field": "region", "type": "nominal", "legend": null, "scale": {"domain": ["American", "African", "Asian"], "range": ["#dc2d1f", "#0aa04f", "#f8dc16"]}}}},
  {"data": {"name": "obs"}, "transform": [{"filter": "datum.measure === 'MCA'"}],
   "mark": {"type": "point", "size": 900, "filled": true, "stroke": "#111", "strokeWidth": 1.2, "opacity": 1, "shape": "M0,0A0.233,0.4167 0 0 1 0,-0.833A0.233,0.4167 0 0 1 0,0ZM0,0A0.4167,0.233 0 0 1 0.833,0A0.4167,0.233 0 0 1 0,0ZM0,0A0.233,0.4167 0 0 1 0,0.833A0.233,0.4167 0 0 1 0,0ZM0,0A0.4167,0.233 0 0 1 -0.833,0A0.4167,0.233 0 0 1 0,0Z"},
   "encoding": {
    "x": {"field": "region", "type": "nominal", "scale": {"type": "band", "domain": ["American", "African", "Asian"], "range": [197, 974], "paddingInner": 0, "paddingOuter": 0}, "axis": null},
    "xOffset": {"field": "measure", "type": "nominal", "scale": {"type": "point", "domain": ["species", "2n", "pl", "x", "MCL", "TML", "MCA", "CVCL"], "range": [47, 211], "padding": 0}},
    "y": {"field": "value", "type": "quantitative", "scale": {"type": "linear", "domain": [16.434, 20.396], "reverse": true, "nice": false, "zero": false}, "axis": null},
    "fill": {"field": "region", "type": "nominal", "legend": null, "scale": {"domain": ["American", "African", "Asian"], "range": ["#dc2d1f", "#0aa04f", "#f8dc16"]}}}},
  {"data": {"name": "obs"}, "transform": [{"filter": "datum.measure === 'CVCL'"}],
   "mark": {"type": "point", "size": 900, "filled": false, "strokeWidth": 1.4, "opacity": 1, "shape": "M0,0A0.1,0.1 0 0 1 0.2,0A0.2,0.2 0 0 1 -0.2,0A0.3,0.3 0 0 1 0.4,0A0.4,0.4 0 0 1 -0.4,0A0.5,0.5 0 0 1 0.6,0A0.6,0.6 0 0 1 -0.6,0A0.7,0.7 0 0 1 0.8,0A0.8,0.8 0 0 1 -0.8,0A0.9,0.9 0 0 1 1,0"},
   "encoding": {
    "x": {"field": "region", "type": "nominal", "scale": {"type": "band", "domain": ["American", "African", "Asian"], "range": [197, 974], "paddingInner": 0, "paddingOuter": 0}, "axis": null},
    "xOffset": {"field": "measure", "type": "nominal", "scale": {"type": "point", "domain": ["species", "2n", "pl", "x", "MCL", "TML", "MCA", "CVCL"], "range": [47, 211], "padding": 0}},
    "y": {"field": "value", "type": "quantitative", "scale": {"type": "linear", "domain": [15.6133, 27.5163], "reverse": true, "nice": false, "zero": false}, "axis": null},
    "stroke": {"field": "region", "type": "nominal", "legend": null, "scale": {"domain": ["American", "African", "Asian"], "range": ["#ff1f1f", "#17a24a", "#ffff00"]}}}},

  {"data": {"name": "obs"}, "transform": [{"filter": "datum.measure === 'species'"}],
   "mark": {"type": "line", "color": "#111", "strokeWidth": 1.5},
   "encoding": {
    "x": {"field": "region", "type": "nominal", "sort": ["American", "African", "Asian"], "scale": {"type": "band", "domain": ["American", "African", "Asian"], "range": [197, 974], "paddingInner": 0, "paddingOuter": 0}, "axis": null},
    "xOffset": {"field": "measure", "type": "nominal", "scale": {"type": "point", "domain": ["species", "2n", "pl", "x", "MCL", "TML", "MCA", "CVCL"], "range": [47, 211], "padding": 0}},
    "y": {"field": "value", "type": "quantitative", "scale": {"type": "linear", "domain": [-41.55, 859.25], "nice": false, "zero": false}, "axis": null}}},
  {"data": {"name": "obs"}, "transform": [{"filter": "datum.measure === '2n'"}],
   "mark": {"type": "line", "color": "#111", "strokeWidth": 1.5},
   "encoding": {
    "x": {"field": "region", "type": "nominal", "sort": ["American", "African", "Asian"], "scale": {"type": "band", "domain": ["American", "African", "Asian"], "range": [197, 974], "paddingInner": 0, "paddingOuter": 0}, "axis": null},
    "xOffset": {"field": "measure", "type": "nominal", "scale": {"type": "point", "domain": ["species", "2n", "pl", "x", "MCL", "TML", "MCA", "CVCL"], "range": [47, 211], "padding": 0}},
    "y": {"field": "value", "type": "quantitative", "scale": {"type": "linear", "domain": [0.0982, 12.1223], "nice": false, "zero": false}, "axis": null}}},
  {"data": {"name": "obs"}, "transform": [{"filter": "datum.measure === 'pl'"}],
   "mark": {"type": "line", "color": "#111", "strokeWidth": 1.5},
   "encoding": {
    "x": {"field": "region", "type": "nominal", "sort": ["American", "African", "Asian"], "scale": {"type": "band", "domain": ["American", "African", "Asian"], "range": [197, 974], "paddingInner": 0, "paddingOuter": 0}, "axis": null},
    "xOffset": {"field": "measure", "type": "nominal", "scale": {"type": "point", "domain": ["species", "2n", "pl", "x", "MCL", "TML", "MCA", "CVCL"], "range": [47, 211], "padding": 0}},
    "y": {"field": "value", "type": "quantitative", "scale": {"type": "linear", "domain": [-0.2898, 5.6961], "nice": false, "zero": false}, "axis": null}}},
  {"data": {"name": "alt"},
   "mark": {"type": "line", "color": "#111", "strokeWidth": 1.5, "strokeDash": [2, 4]},
   "encoding": {
    "x": {"field": "region", "type": "nominal", "sort": ["American", "African", "Asian"], "scale": {"type": "band", "domain": ["American", "African", "Asian"], "range": [197, 974], "paddingInner": 0, "paddingOuter": 0}, "axis": null},
    "xOffset": {"field": "measure", "type": "nominal", "scale": {"type": "point", "domain": ["species", "2n", "pl", "x", "MCL", "TML", "MCA", "CVCL"], "range": [47, 211], "padding": 0}},
    "y": {"field": "value", "type": "quantitative", "scale": {"type": "linear", "domain": [-0.2898, 5.6961], "nice": false, "zero": false}, "axis": null}}},
  {"data": {"name": "obs"}, "transform": [{"filter": "datum.measure === 'x'"}],
   "mark": {"type": "line", "color": "#111", "strokeWidth": 1.5},
   "encoding": {
    "x": {"field": "region", "type": "nominal", "sort": ["American", "African", "Asian"], "scale": {"type": "band", "domain": ["American", "African", "Asian"], "range": [197, 974], "paddingInner": 0, "paddingOuter": 0}, "axis": null},
    "xOffset": {"field": "measure", "type": "nominal", "scale": {"type": "point", "domain": ["species", "2n", "pl", "x", "MCL", "TML", "MCA", "CVCL"], "range": [47, 211], "padding": 0}},
    "y": {"field": "value", "type": "quantitative", "scale": {"type": "linear", "domain": [0.2735, 9.24786], "nice": false, "zero": false}, "axis": null}}},
  {"data": {"name": "obs"}, "transform": [{"filter": "datum.measure === 'MCL'"}],
   "mark": {"type": "line", "color": "#9a9a9a", "strokeWidth": 1.5},
   "encoding": {
    "x": {"field": "region", "type": "nominal", "sort": ["American", "African", "Asian"], "scale": {"type": "band", "domain": ["American", "African", "Asian"], "range": [197, 974], "paddingInner": 0, "paddingOuter": 0}, "axis": null},
    "xOffset": {"field": "measure", "type": "nominal", "scale": {"type": "point", "domain": ["species", "2n", "pl", "x", "MCL", "TML", "MCA", "CVCL"], "range": [47, 211], "padding": 0}},
    "y": {"field": "value", "type": "quantitative", "scale": {"type": "linear", "domain": [-1.98301, 6.93418], "reverse": true, "nice": false, "zero": false}, "axis": null}}},
  {"data": {"name": "obs"}, "transform": [{"filter": "datum.measure === 'TML'"}],
   "mark": {"type": "line", "color": "#9a9a9a", "strokeWidth": 1.5},
   "encoding": {
    "x": {"field": "region", "type": "nominal", "sort": ["American", "African", "Asian"], "scale": {"type": "band", "domain": ["American", "African", "Asian"], "range": [197, 974], "paddingInner": 0, "paddingOuter": 0}, "axis": null},
    "xOffset": {"field": "measure", "type": "nominal", "scale": {"type": "point", "domain": ["species", "2n", "pl", "x", "MCL", "TML", "MCA", "CVCL"], "range": [47, 211], "padding": 0}},
    "y": {"field": "value", "type": "quantitative", "scale": {"type": "linear", "domain": [7.6207, 19.5475], "reverse": true, "nice": false, "zero": false}, "axis": null}}},
  {"data": {"name": "obs"}, "transform": [{"filter": "datum.measure === 'MCA'"}],
   "mark": {"type": "line", "color": "#9a9a9a", "strokeWidth": 1.5},
   "encoding": {
    "x": {"field": "region", "type": "nominal", "sort": ["American", "African", "Asian"], "scale": {"type": "band", "domain": ["American", "African", "Asian"], "range": [197, 974], "paddingInner": 0, "paddingOuter": 0}, "axis": null},
    "xOffset": {"field": "measure", "type": "nominal", "scale": {"type": "point", "domain": ["species", "2n", "pl", "x", "MCL", "TML", "MCA", "CVCL"], "range": [47, 211], "padding": 0}},
    "y": {"field": "value", "type": "quantitative", "scale": {"type": "linear", "domain": [16.434, 20.396], "reverse": true, "nice": false, "zero": false}, "axis": null}}},
  {"data": {"name": "obs"}, "transform": [{"filter": "datum.measure === 'CVCL'"}],
   "mark": {"type": "line", "color": "#9a9a9a", "strokeWidth": 1.5},
   "encoding": {
    "x": {"field": "region", "type": "nominal", "sort": ["American", "African", "Asian"], "scale": {"type": "band", "domain": ["American", "African", "Asian"], "range": [197, 974], "paddingInner": 0, "paddingOuter": 0}, "axis": null},
    "xOffset": {"field": "measure", "type": "nominal", "scale": {"type": "point", "domain": ["species", "2n", "pl", "x", "MCL", "TML", "MCA", "CVCL"], "range": [47, 211], "padding": 0}},
    "y": {"field": "value", "type": "quantitative", "scale": {"type": "linear", "domain": [15.6133, 27.5163], "reverse": true, "nice": false, "zero": false}, "axis": null}}}
 ]
}
